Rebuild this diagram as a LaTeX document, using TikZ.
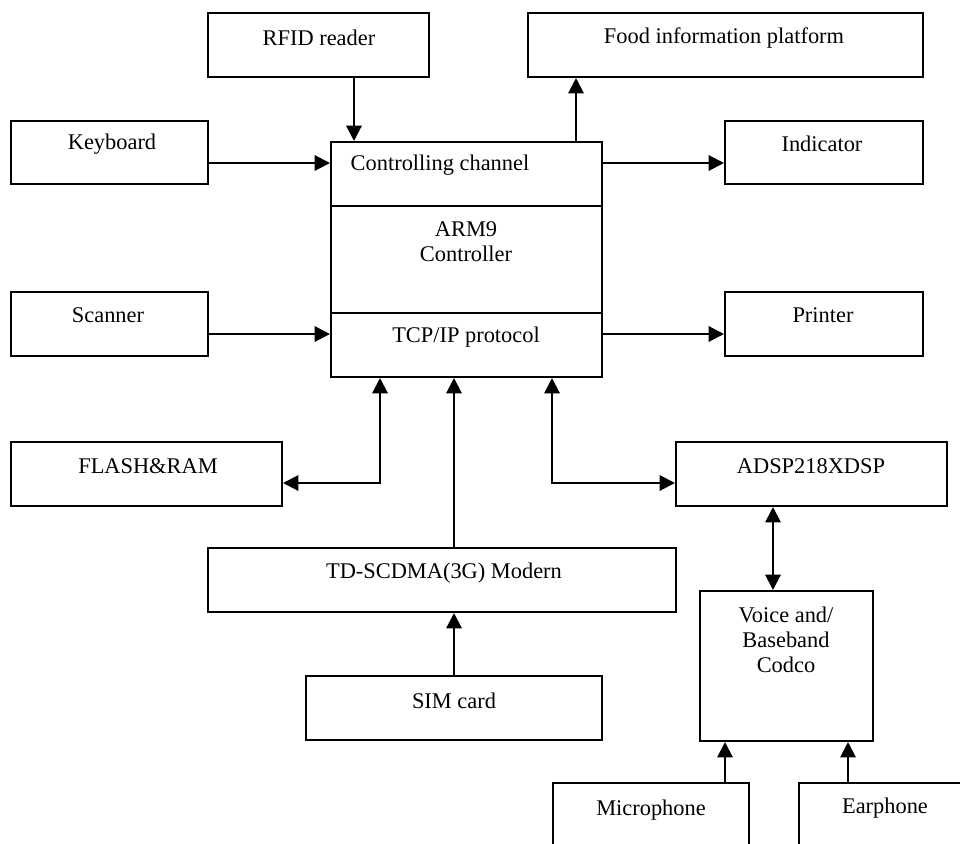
\documentclass[tikz,border=0pt]{standalone}
\usepackage{fontspec}
\setmainfont{Liberation Serif}
\usetikzlibrary{arrows.meta,fit}
\begin{document}
\begin{tikzpicture}[x=0.75pt,y=-0.75pt,
 box/.style={draw, line width=1.5pt, inner sep=0pt},
 lbl/.style={font=\fontsize{16.8}{18.75}\selectfont, inner sep=0pt, align=center, yshift=-1.5pt},
 arr/.style={line width=1.5pt, -{Triangle[length=11.5pt,width=11.5pt]}},
 darr/.style={line width=1.5pt, {Triangle[length=11.5pt,width=11.5pt]}-{Triangle[length=11.5pt,width=11.5pt]}}]
\clip (0,0) rectangle (960,843);
\fill[white] (0,0) rectangle (960,843);
% boxes
\node[box, fit={(208,13) (429,77)}] (rfid) {};
\node[box, fit={(11,121) (208,184)}] (kb) {};
\node[box, fit={(528,13) (923,77)}] (food) {};
\node[box, fit={(725,121) (923,184)}] (ind) {};
\node[box, fit={(331,142) (602,206)}] (cc) {};
\node[box, fit={(331,206) (602,313)}] (arm) {};
\node[box, fit={(331,313) (602,377)}] (tcp) {};
\node[box, fit={(11,292) (208,356)}] (scan) {};
\node[box, fit={(725,292) (923,356)}] (prn) {};
\node[box, fit={(11,442) (282,506)}] (flash) {};
\node[box, fit={(676,442) (947,506)}] (adsp) {};
\node[box, fit={(208,548) (676,612)}] (td) {};
\node[box, fit={(306,676) (602,740)}] (sim) {};
\node[box, fit={(700,591) (873,741)}] (voice) {};
\node[box, fit={(553,783) (749,880)}] (mic) {};
\node[box, fit={(799,783) (1000,880)}] (ear) {};
% labels
\node[lbl] (trfid) at (319,36) {RFID reader};
\node[lbl] (tfood) at (724,36) {Food information platform};
\node[lbl] (tkb) at (112,142) {Keyboard};
\node[lbl] (tcc) at (440,163) {Controlling channel};
\node[lbl] (tind) at (822,142) {Indicator};
\node[lbl] (tarm) at (466,240) {ARM9\\Controller};
\node[lbl] (tscan) at (108,313) {Scanner};
\node[lbl] (ttcp) at (466,335) {TCP/IP protocol};
\node[lbl] (tprn) at (823,313) {Printer};
\node[lbl] (tflash) at (148,464) {FLASH\&RAM};
\node[lbl] (tadsp) at (811,464) {ADSP218XDSP};
\node[lbl] (ttd) at (444,571) {TD-SCDMA(3G) Modern};
\node[lbl] (tsim) at (454,699) {SIM card};
\node[lbl] (tvoice) at (786,638) {Voice and/\\Baseband\\Codco};
\node[lbl] (tmic) at (651,808) {Microphone};
\node[lbl] (tear) at (885,806) {Earphone};
% guide coordinates
\coordinate (vR) at (354,0);
\coordinate (vF) at (576,0);
\coordinate (hK) at (0,163);
\coordinate (hS) at (0,334);
\coordinate (vFl) at (380,0);
\coordinate (vTd) at (454,0);
\coordinate (vAd) at (552,0);
\coordinate (hM) at (0,483);
\coordinate (vV) at (773,0);
\coordinate (vMi) at (725,0);
\coordinate (vEa) at (848,0);
% connectors
\draw[arr] (rfid.south -| vR) -- (cc.north -| vR);
\draw[arr] (cc.north -| vF) -- (food.south -| vF);
\draw[arr] (kb.east |- hK) -- (cc.west |- hK);
\draw[arr] (cc.east |- hK) -- (ind.west |- hK);
\draw[arr] (scan.east |- hS) -- (tcp.west |- hS);
\draw[arr] (tcp.east |- hS) -- (prn.west |- hS);
\draw[darr] (tcp.south -| vFl) |- (flash.east |- hM);
\draw[darr] (tcp.south -| vAd) |- (adsp.west |- hM);
\draw[arr] (td.north -| vTd) -- (tcp.south -| vTd);
\draw[arr] (sim.north -| vTd) -- (td.south -| vTd);
\draw[darr] (adsp.south -| vV) -- (voice.north -| vV);
\draw[arr] (mic.north -| vMi) -- (voice.south -| vMi);
\draw[arr] (ear.north -| vEa) -- (voice.south -| vEa);
\end{tikzpicture}
\end{document}
